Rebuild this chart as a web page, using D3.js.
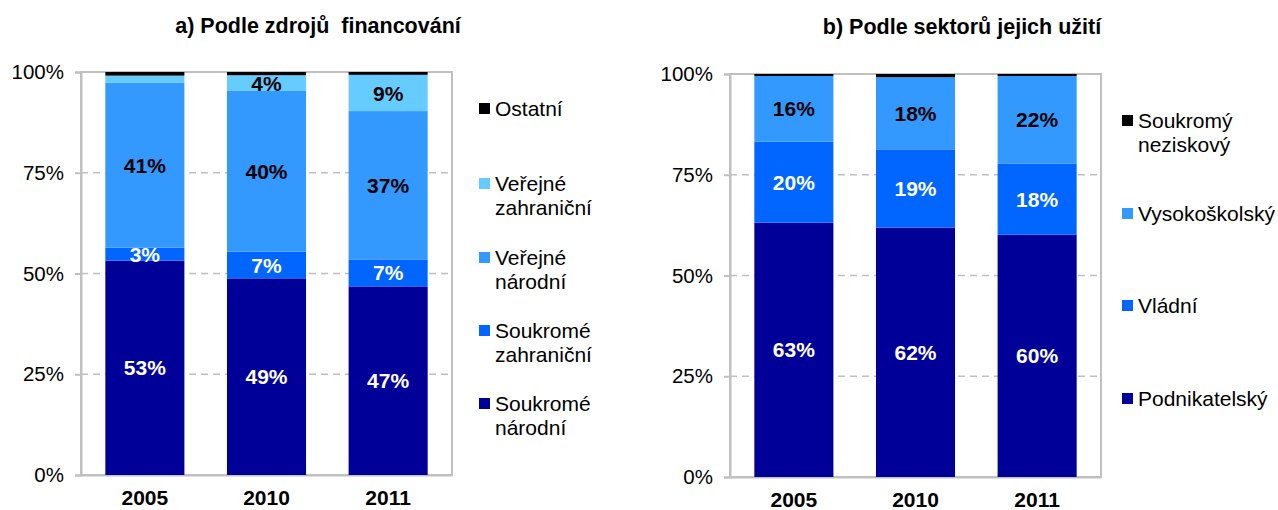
<!DOCTYPE html>
<html>
<head>
<meta charset="utf-8">
<script src="https://cdn.jsdelivr.net/npm/d3@7"></script>
<style>
  body { margin: 0; background: #fff; }
  svg text { font-family: 'Liberation Sans', Arial, sans-serif; }
</style>
</head>
<body>
<div id="chartContainer"></div>
<script>
// years on the x axis
var years = ["2005", "2010", "2011"];

// a) Podle zdrojů financování (bottom to top)
var fundNames = ["Soukromé národní", "Soukromé zahraniční", "Veřejné národní", "Veřejné zahraniční", "Ostatní"];
var soukromeNarodni = [53.2, 48.8, 46.8];
var soukromeZahranicni = [3.2, 6.6, 6.7];
var verejneNarodni = [40.9, 39.9, 36.8];
var verejneZahranicni = [1.8, 3.9, 9.0];
var ostatni = [0.9, 0.8, 0.7];
var fundColors = ["#000099", "#0066ff", "#3399ff", "#66ccff", "#000000"];
var fundLabelColors = ["#fff", "#fff", "#000", "#000", null];
var fundLegend = [["Ostatní"], ["Veřejné", "zahraniční"], ["Veřejné", "národní"], ["Soukromé", "zahraniční"], ["Soukromé", "národní"]];

// b) Podle sektorů jejich užití (bottom to top)
var sectorNames = ["Podnikatelský", "Vládní", "Vysokoškolský", "Soukromý neziskový"];
var podnikatelsky = [63.1, 61.9, 60.1];
var vladni = [20.1, 19.4, 17.7];
var vysokoskolsky = [16.3, 17.9, 21.7];
var neziskovy = [0.5, 0.8, 0.5];
var sectorColors = ["#000099", "#0066ff", "#3399ff", "#000000"];
var sectorLabelColors = ["#fff", "#fff", "#000", null];
var sectorLegend = [["Soukromý", "neziskový"], ["Vysokoškolský"], ["Vládní"], ["Podnikatelský"]];

var yTicks = [0, 25, 50, 75, 100];

var svg = d3.select("#chartContainer").append("svg")
  .attr("width", 1278).attr("height", 510);

function drawChart(opt) {
  var g = svg.append("g");
  var x = d3.scaleBand().domain(years).range([opt.left, opt.right]).paddingInner(0.35).paddingOuter(0.2);
  var y = d3.scaleLinear().domain([0, 100]).range([opt.bottom, opt.top]);

  // title
  g.append("text")
    .attr("x", opt.titleX).attr("y", opt.titleY)
    .attr("text-anchor", "middle")
    .style("white-space", "pre")
    .style("font-size", "21.5px").style("font-weight", "bold")
    .text(opt.title);

  // dashed gridlines
  g.selectAll(".grid").data(yTicks.slice(1, 4)).enter().append("line")
    .attr("x1", opt.left).attr("x2", opt.right)
    .attr("y1", function (d) { return y(d); }).attr("y2", function (d) { return y(d); })
    .attr("stroke", "#c0c0c0").attr("stroke-width", 1.5).attr("stroke-dasharray", "7,5");

  // plot frame
  g.append("rect")
    .attr("x", opt.left).attr("y", opt.top)
    .attr("width", opt.right - opt.left).attr("height", opt.bottom - opt.top)
    .attr("fill", "none").attr("stroke", "#c0c0c0").attr("stroke-width", 2);

  // y axis
  var yAxis = d3.axisLeft(y).tickValues(yTicks).tickSize(6).tickPadding(11)
    .tickFormat(function (d) { return d + "%"; });
  var ya = g.append("g").attr("transform", "translate(" + opt.left + ",0)").call(yAxis);
  ya.select(".domain").attr("stroke", "#c0c0c0").attr("stroke-width", 2);
  ya.selectAll(".tick line").attr("stroke", "#c0c0c0").attr("stroke-width", 2);
  ya.selectAll(".tick text").style("font-size", "20.5px").attr("fill", "#000")
    .style("font-family", "'Liberation Sans', Arial, sans-serif");

  // x axis labels
  var xAxis = d3.axisBottom(x).tickSize(0).tickPadding(15);
  var xa = g.append("g").attr("transform", "translate(0," + opt.bottom + ")").call(xAxis);
  xa.select(".domain").attr("stroke", "#c0c0c0").attr("stroke-width", 2);
  xa.selectAll(".tick text").style("font-size", "21px").style("font-weight", "bold").attr("fill", "#000")
    .style("font-family", "'Liberation Sans', Arial, sans-serif");

  // stacked bars
  var rows = years.map(function (yr, i) {
    var r = { year: yr };
    opt.series.forEach(function (s, k) { r[k] = s[i]; });
    return r;
  });
  var keys = opt.series.map(function (s, k) { return k; });
  var stacked = d3.stack().keys(keys)(rows);

  stacked.forEach(function (layer, k) {
    g.selectAll(".seg" + k).data(layer).enter().append("rect")
      .attr("x", function (d) { return x(d.data.year); })
      .attr("width", x.bandwidth())
      .attr("y", function (d) { return y(d[1]); })
      .attr("height", function (d) { return y(d[0]) - y(d[1]); })
      .attr("fill", opt.colors[k]);
    if (opt.labelColors[k]) {
      g.selectAll(".lab" + k).data(layer.filter(function (d) { return d[1] - d[0] >= 3; }))
        .enter().append("text")
        .attr("x", function (d) { return x(d.data.year) + x.bandwidth() / 2; })
        .attr("y", function (d) { return y((d[0] + d[1]) / 2); })
        .attr("dy", "0.36em")
        .attr("text-anchor", "middle")
        .style("font-size", "21px").style("font-weight", "bold")
        .attr("fill", opt.labelColors[k])
        .text(function (d) { return Math.round(d[1] - d[0]) + "%"; });
    }
  });

  // legend (top to bottom)
  var legendCols = opt.colors.slice().reverse();
  opt.legend.forEach(function (lines, i) {
    var ly = opt.legendY[i];
    g.append("rect")
      .attr("x", opt.legendX).attr("y", ly - 5)
      .attr("width", 11).attr("height", 11)
      .attr("fill", legendCols[i]);
    var t = g.append("text").attr("x", opt.legendX + 16).attr("y", ly)
      .style("font-size", "21px").attr("fill", "#000");
    lines.forEach(function (line, j) {
      t.append("tspan").attr("x", opt.legendX + 16).attr("dy", j === 0 ? "0.36em" : "24.5px").text(line);
    });
  });
}

drawChart({
  title: "a) Podle zdrojů  financování", titleX: 318, titleY: 33,
  left: 81, right: 452, top: 72, bottom: 475,
  series: [soukromeNarodni, soukromeZahranicni, verejneNarodni, verejneZahranicni, ostatni],
  colors: fundColors, labelColors: fundLabelColors,
  legend: fundLegend, legendX: 479, legendY: [108, 183, 257, 330, 403]
});

drawChart({
  title: "b) Podle sektorů jejich užití", titleX: 962, titleY: 34,
  left: 730, right: 1101, top: 74, bottom: 477,
  series: [podnikatelsky, vladni, vysokoskolsky, neziskovy],
  colors: sectorColors, labelColors: sectorLabelColors,
  legend: sectorLegend, legendX: 1122, legendY: [120, 213, 305, 398]
});
</script>
</body>
</html>
